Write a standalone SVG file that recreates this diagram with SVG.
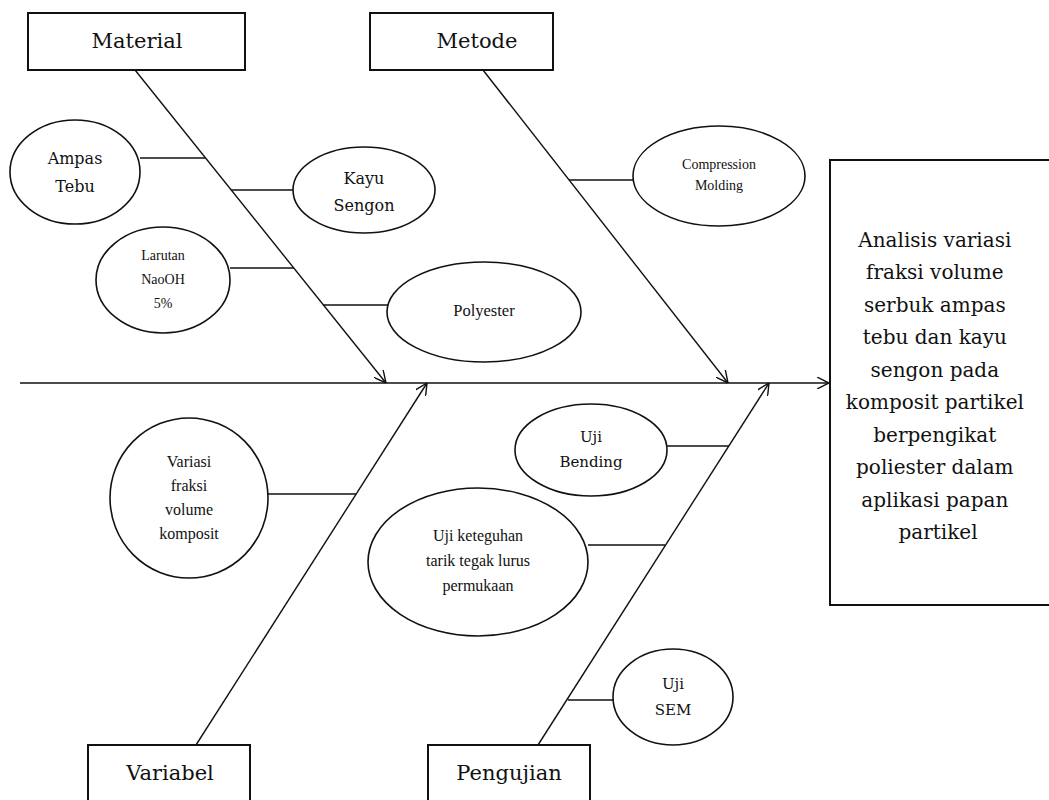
<svg xmlns="http://www.w3.org/2000/svg" width="1049" height="800" viewBox="0 0 1049 800">
<defs>
<marker id="arr" viewBox="0 0 12 12" refX="12" refY="6" markerWidth="12" markerHeight="12" markerUnits="userSpaceOnUse" orient="auto">
<path d="M0,0 L12,6 L0,12" fill="none" stroke="#111" stroke-width="1.4"/>
</marker>
<style>
.bx{fill:#fff;stroke:#111;stroke-width:2}
.el{fill:#fff;stroke:#111;stroke-width:1.6}
.ln{fill:none;stroke:#111;stroke-width:1.4}
.cam{font-family:"DejaVu Serif","Liberation Serif",serif;fill:#111;text-anchor:middle}
.tnr{font-family:"Liberation Serif","Times New Roman",serif;fill:#111;text-anchor:middle}
</style>
</defs>
<rect width="1049" height="800" fill="#fff"/>
<g id="connectors">
<line class="ln" x1="20" y1="383" x2="829" y2="383" marker-end="url(#arr)"/>
<line class="ln" x1="135" y1="70" x2="386" y2="383" marker-end="url(#arr)"/>
<line class="ln" x1="483" y1="70" x2="728" y2="383" marker-end="url(#arr)"/>
<line class="ln" x1="196" y1="745" x2="427" y2="383" marker-end="url(#arr)"/>
<line class="ln" x1="538" y1="745" x2="769" y2="383" marker-end="url(#arr)"/>
<line class="ln" x1="140" y1="158" x2="205" y2="158"/>
<line class="ln" x1="231" y1="190" x2="293" y2="190"/>
<line class="ln" x1="230" y1="268" x2="294" y2="268"/>
<line class="ln" x1="323" y1="305" x2="388" y2="305"/>
<line class="ln" x1="569" y1="180" x2="634" y2="180"/>
<line class="ln" x1="268" y1="494" x2="356" y2="494"/>
<line class="ln" x1="667" y1="446" x2="729" y2="446"/>
<line class="ln" x1="588" y1="545" x2="665" y2="545"/>
<line class="ln" x1="568" y1="700" x2="613" y2="700"/>
</g>
<g id="material"><rect class="bx" x="28" y="13" width="217" height="57"/><text class="cam" x="137" y="48" font-size="21">Material</text></g>
<g id="metode"><rect class="bx" x="370" y="13" width="183" height="57"/><text class="cam" x="477" y="48" font-size="21">Metode</text></g>
<g id="variabel"><rect class="bx" x="88" y="745" width="162" height="60"/><text class="cam" x="170" y="780" font-size="21">Variabel</text></g>
<g id="pengujian"><rect class="bx" x="428" y="745" width="162" height="60"/><text class="cam" x="509" y="780" font-size="21">Pengujian</text></g>
<g id="hasil"><rect class="bx" x="830" y="160" width="225" height="445"/>
<text class="cam" x="938" font-size="20">
<tspan x="938" y="247">Analisis variasi</tspan>
<tspan x="938" y="279">fraksi volume</tspan>
<tspan x="938" y="312">serbuk ampas</tspan>
<tspan x="938" y="344">tebu dan kayu</tspan>
<tspan x="938" y="377">sengon pada</tspan>
<tspan x="938" y="409">komposit partikel</tspan>
<tspan x="938" y="442">berpengikat</tspan>
<tspan x="938" y="474">poliester dalam</tspan>
<tspan x="938" y="507">aplikasi papan</tspan>
<tspan x="938" y="539">partikel</tspan>
</text></g>
<g id="ampas-tebu"><ellipse class="el" cx="75" cy="172" rx="65" ry="52"/><text class="cam" font-size="16"><tspan x="75" y="164">Ampas</tspan><tspan x="75" y="192">Tebu</tspan></text></g>
<g id="kayu-sengon"><ellipse class="el" cx="364" cy="190" rx="71" ry="43"/><text class="cam" font-size="16"><tspan x="364" y="184">Kayu</tspan><tspan x="364" y="211">Sengon</tspan></text></g>
<g id="naoh"><ellipse class="el" cx="163" cy="280" rx="67" ry="53"/><text class="tnr" font-size="14"><tspan x="163" y="260">Larutan</tspan><tspan x="163" y="284">NaoOH</tspan><tspan x="163" y="308">5%</tspan></text></g>
<g id="polyester"><ellipse class="el" cx="484" cy="312" rx="97" ry="50"/><text class="tnr" font-size="16.5" x="484" y="316">Polyester</text></g>
<g id="compression"><ellipse class="el" cx="719" cy="176" rx="86" ry="50"/><text class="tnr" font-size="14"><tspan x="719" y="169">Compression</tspan><tspan x="719" y="190">Molding</tspan></text></g>
<g id="variasi"><ellipse class="el" cx="189" cy="498" rx="79" ry="80"/><text class="tnr" font-size="16"><tspan x="189" y="467">Variasi</tspan><tspan x="189" y="491">fraksi</tspan><tspan x="189" y="515">volume</tspan><tspan x="189" y="539">komposit</tspan></text></g>
<g id="uji-bending"><ellipse class="el" cx="591" cy="450" rx="76" ry="46"/><text class="cam" font-size="15"><tspan x="591" y="442">Uji</tspan><tspan x="591" y="467">Bending</tspan></text></g>
<g id="uji-keteguhan"><ellipse class="el" cx="478" cy="562" rx="110" ry="74"/><text class="tnr" font-size="16"><tspan x="478" y="541">Uji keteguhan</tspan><tspan x="478" y="566">tarik tegak lurus</tspan><tspan x="478" y="591">permukaan</tspan></text></g>
<g id="uji-sem"><ellipse class="el" cx="673" cy="697" rx="60" ry="48"/><text class="cam" font-size="15"><tspan x="673" y="689">Uji</tspan><tspan x="673" y="715">SEM</tspan></text></g>
</svg>
